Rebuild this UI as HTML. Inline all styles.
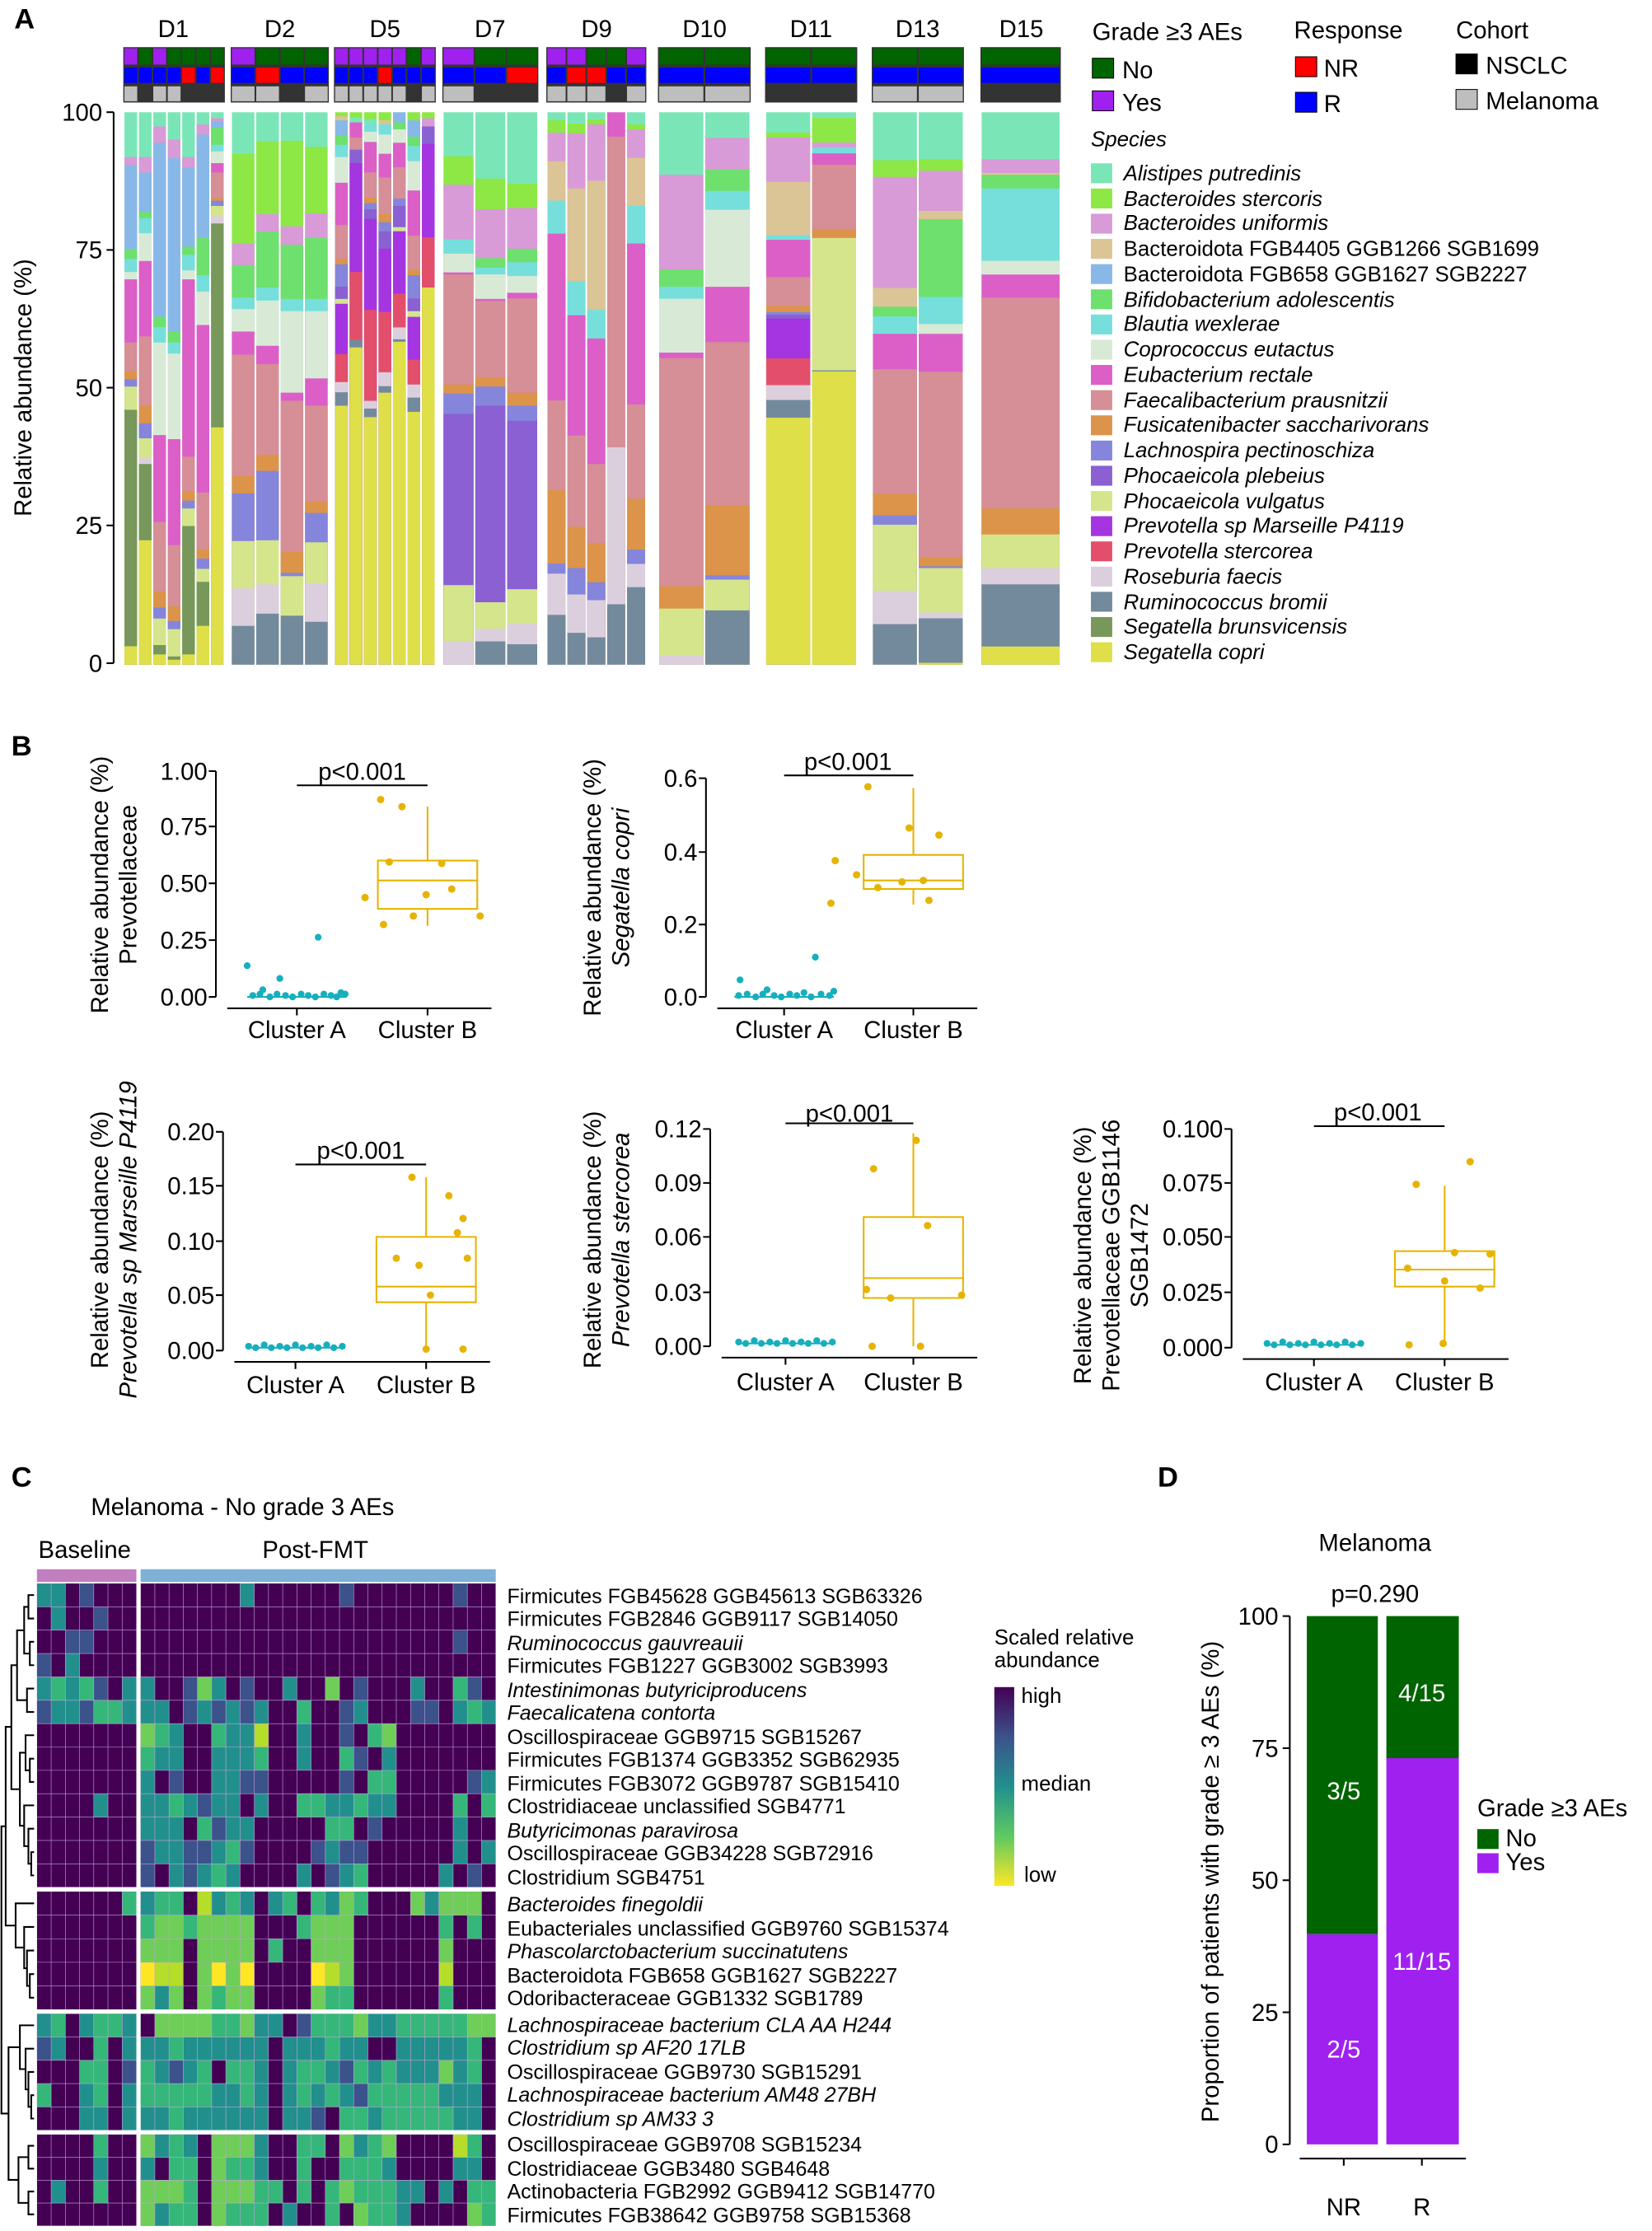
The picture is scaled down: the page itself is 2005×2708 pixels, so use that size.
<!DOCTYPE html>
<html><head><meta charset="utf-8">
<style>
html,body{margin:0;padding:0;background:#fff;}
svg{display:block;}
text{font-family:"Liberation Sans",Arial,sans-serif;fill:#000;}
.t{font-size:17px;}
.s{font-size:15px;}
.h{font-size:14.5px;}
.b{font-size:20px;font-weight:bold;}
.i{font-style:italic;}
.bs rect{width:1px;height:3000px;}
.c0{fill:#7ae6b8}.c1{fill:#8de845}.c2{fill:#d99ad8}.c3{fill:#dbc495}.c4{fill:#88b8e8}.c5{fill:#6ee06e}.c6{fill:#76dfdc}.c7{fill:#d8ead6}.c8{fill:#dc5fc8}.c9{fill:#d68f96}.c10{fill:#dc944a}.c11{fill:#8585dc}.c12{fill:#8a60d2}.c13{fill:#d5e58c}.c14{fill:#a435e0}.c15{fill:#e34f6a}.c16{fill:#dccfdd}.c17{fill:#738a9c}.c18{fill:#77985a}.c19{fill:#dfdf4a}
.P{fill:#a020f0}.G{fill:#006400}.B{fill:#0000ff}.R{fill:#ff0000}.L{fill:#bebebe}.D{fill:#333}
.hm rect{width:1px;height:1px;}
.q0{fill:#440154}.q1{fill:#3b528b}.q2{fill:#21908d}.q3{fill:#35b779}.q4{fill:#6ece58}.q5{fill:#b5de2b}.q6{fill:#fde725}
.gl{stroke:#c8a3dc;stroke-width:.6;fill:none;}
.ta{fill:#16afbd}.tb{fill:#e6b400}
</style></head>
<body>
<svg width="2005" height="2708" viewBox="0 0 1163 1571" preserveAspectRatio="none" xmlns="http://www.w3.org/2000/svg">
<rect width="1163" height="1571" fill="#fff"/>
<text class="b" x="10" y="20">A</text>
<text class="b" x="8" y="532">B</text>
<text class="b" x="8" y="1047">C</text>
<text class="b" x="815" y="1047">D</text>
<g class="t" text-anchor="middle">
<text x="122" y="26">D1</text><text x="197" y="26">D2</text><text x="271" y="26">D5</text>
<text x="345" y="26">D7</text><text x="420" y="26">D9</text><text x="496" y="26">D10</text>
<text x="571" y="26">D11</text><text x="646" y="26">D13</text><text x="719" y="26">D15</text>
</g>

<!-- annotation backings -->
<g fill="#333">
<rect x="86.8" y="33.2" width="71.5" height="39"/>
<rect x="162.4" y="33.2" width="69.1" height="39"/>
<rect x="235.1" y="33.2" width="71.7" height="39"/>
<rect x="311.4" y="33.2" width="67.6" height="39"/>
<rect x="384.6" y="33.2" width="70.4" height="39"/>
<rect x="463.2" y="33.2" width="65.3" height="39"/>
<rect x="538.6" y="33.2" width="64.9" height="39"/>
<rect x="613.7" y="33.2" width="64.9" height="39"/>
<rect x="690.2" y="33.2" width="56.6" height="39"/>
</g>
<!-- annotation cells -->
<g>
<!-- D1 -->
<rect x="87.6" y="34" width="9" height="11.5" class="P"/><rect x="97.8" y="34" width="9" height="11.5" class="G"/><rect x="107.9" y="34" width="9" height="11.5" class="P"/><rect x="118.1" y="34" width="9" height="11.5" class="G"/><rect x="128.2" y="34" width="9" height="11.5" class="G"/><rect x="138.4" y="34" width="9" height="11.5" class="G"/><rect x="148.5" y="34" width="9" height="11.5" class="G"/>
<rect x="87.6" y="47.6" width="9" height="10.8" class="B"/><rect x="97.8" y="47.6" width="9" height="10.8" class="B"/><rect x="107.9" y="47.6" width="9" height="10.8" class="B"/><rect x="118.1" y="47.6" width="9" height="10.8" class="B"/><rect x="128.2" y="47.6" width="9" height="10.8" class="R"/><rect x="138.4" y="47.6" width="9" height="10.8" class="B"/><rect x="148.5" y="47.6" width="9" height="10.8" class="R"/>
<rect x="87.6" y="60.8" width="9" height="10.5" class="L"/><rect x="97.8" y="60.8" width="9" height="10.5" class="D"/><rect x="107.9" y="60.8" width="9" height="10.5" class="L"/><rect x="118.1" y="60.8" width="9" height="10.5" class="L"/><rect x="128.2" y="60.8" width="9" height="10.5" class="D"/><rect x="138.4" y="60.8" width="9" height="10.5" class="D"/><rect x="148.5" y="60.8" width="9" height="10.5" class="D"/>
<!-- D2 -->
<rect x="163.2" y="34" width="16" height="11.5" class="P"/><rect x="180.4" y="34" width="16" height="11.5" class="G"/><rect x="197.6" y="34" width="16" height="11.5" class="G"/><rect x="214.7" y="34" width="16" height="11.5" class="G"/>
<rect x="163.2" y="47.6" width="16" height="10.8" class="B"/><rect x="180.4" y="47.6" width="16" height="10.8" class="R"/><rect x="197.6" y="47.6" width="16" height="10.8" class="B"/><rect x="214.7" y="47.6" width="16" height="10.8" class="B"/>
<rect x="163.2" y="60.8" width="16" height="10.5" class="L"/><rect x="180.4" y="60.8" width="16" height="10.5" class="L"/><rect x="197.6" y="60.8" width="16" height="10.5" class="D"/><rect x="214.7" y="60.8" width="16" height="10.5" class="L"/>
<!-- D5 -->
<rect x="235.9" y="34" width="9" height="11.5" class="P"/><rect x="246.1" y="34" width="9" height="11.5" class="P"/><rect x="256.3" y="34" width="9" height="11.5" class="P"/><rect x="266.5" y="34" width="9" height="11.5" class="P"/><rect x="276.6" y="34" width="9" height="11.5" class="P"/><rect x="286.8" y="34" width="9" height="11.5" class="G"/><rect x="297" y="34" width="9" height="11.5" class="P"/>
<rect x="235.9" y="47.6" width="9" height="10.8" class="B"/><rect x="246.1" y="47.6" width="9" height="10.8" class="B"/><rect x="256.3" y="47.6" width="9" height="10.8" class="B"/><rect x="266.5" y="47.6" width="9" height="10.8" class="R"/><rect x="276.6" y="47.6" width="9" height="10.8" class="B"/><rect x="286.8" y="47.6" width="9" height="10.8" class="B"/><rect x="297" y="47.6" width="9" height="10.8" class="B"/>
<rect x="235.9" y="60.8" width="9" height="10.5" class="L"/><rect x="246.1" y="60.8" width="9" height="10.5" class="L"/><rect x="256.3" y="60.8" width="9" height="10.5" class="L"/><rect x="266.5" y="60.8" width="9" height="10.5" class="L"/><rect x="276.6" y="60.8" width="9" height="10.5" class="L"/><rect x="286.8" y="60.8" width="9" height="10.5" class="D"/><rect x="297" y="60.8" width="9" height="10.5" class="L"/>
<!-- D7 -->
<rect x="312.2" y="34" width="21.2" height="11.5" class="P"/><rect x="334.6" y="34" width="21.2" height="11.5" class="G"/><rect x="357" y="34" width="21.2" height="11.5" class="G"/>
<rect x="312.2" y="47.6" width="21.2" height="10.8" class="B"/><rect x="334.6" y="47.6" width="21.2" height="10.8" class="B"/><rect x="357" y="47.6" width="21.2" height="10.8" class="R"/>
<rect x="312.2" y="60.8" width="21.2" height="10.5" class="L"/><rect x="334.6" y="60.8" width="21.2" height="10.5" class="D"/><rect x="357" y="60.8" width="21.2" height="10.5" class="D"/>
<!-- D9 -->
<rect x="385.4" y="34" width="12.8" height="11.5" class="P"/><rect x="399.4" y="34" width="12.8" height="11.5" class="P"/><rect x="413.4" y="34" width="12.8" height="11.5" class="G"/><rect x="427.4" y="34" width="12.8" height="11.5" class="G"/><rect x="441.4" y="34" width="12.8" height="11.5" class="P"/>
<rect x="385.4" y="47.6" width="12.8" height="10.8" class="B"/><rect x="399.4" y="47.6" width="12.8" height="10.8" class="R"/><rect x="413.4" y="47.6" width="12.8" height="10.8" class="R"/><rect x="427.4" y="47.6" width="12.8" height="10.8" class="B"/><rect x="441.4" y="47.6" width="12.8" height="10.8" class="B"/>
<rect x="385.4" y="60.8" width="12.8" height="10.5" class="L"/><rect x="399.4" y="60.8" width="12.8" height="10.5" class="L"/><rect x="413.4" y="60.8" width="12.8" height="10.5" class="L"/><rect x="427.4" y="60.8" width="12.8" height="10.5" class="D"/><rect x="441.4" y="60.8" width="12.8" height="10.5" class="L"/>
<!-- D10 -->
<rect x="464" y="34" width="31.2" height="11.5" class="G"/><rect x="496.5" y="34" width="31.2" height="11.5" class="G"/>
<rect x="464" y="47.6" width="31.2" height="10.8" class="B"/><rect x="496.5" y="47.6" width="31.2" height="10.8" class="B"/>
<rect x="464" y="60.8" width="31.2" height="10.5" class="L"/><rect x="496.5" y="60.8" width="31.2" height="10.5" class="L"/>
<!-- D11 -->
<rect x="539.4" y="34" width="31" height="11.5" class="G"/><rect x="571.7" y="34" width="31" height="11.5" class="G"/>
<rect x="539.4" y="47.6" width="31" height="10.8" class="B"/><rect x="571.7" y="47.6" width="31" height="10.8" class="B"/>
<rect x="539.4" y="60.8" width="31" height="10.5" class="D"/><rect x="571.7" y="60.8" width="31" height="10.5" class="D"/>
<!-- D13 -->
<rect x="614.5" y="34" width="31" height="11.5" class="G"/><rect x="646.8" y="34" width="31" height="11.5" class="G"/>
<rect x="614.5" y="47.6" width="31" height="10.8" class="B"/><rect x="646.8" y="47.6" width="31" height="10.8" class="B"/>
<rect x="614.5" y="60.8" width="31" height="10.5" class="L"/><rect x="646.8" y="60.8" width="31" height="10.5" class="L"/>
<!-- D15 -->
<rect x="691" y="34" width="55" height="11.5" class="G"/>
<rect x="691" y="47.6" width="55" height="10.8" class="B"/>
<rect x="691" y="60.8" width="55" height="10.5" class="D"/>
</g>

<!-- Stacked bars -->
<svg class="bs" x="87.6" y="79" width="8.96" height="389" viewBox="0 170 1 1355" preserveAspectRatio="none"><rect class="c0" y="170"/><rect class="c2" y="280"/><rect class="c4" y="300"/><rect class="c5" y="505"/><rect class="c6" y="530"/><rect class="c7" y="562"/><rect class="c8" y="580"/><rect class="c9" y="735"/><rect class="c10" y="805"/><rect class="c11" y="825"/><rect class="c13" y="843"/><rect class="c18" y="900"/><rect class="c19" y="1480"/></svg>
<svg class="bs" x="97.76" y="79" width="8.96" height="389" viewBox="0 170 1 1355" preserveAspectRatio="none"><rect class="c0" y="170"/><rect class="c2" y="280"/><rect class="c4" y="318"/><rect class="c5" y="415"/><rect class="c6" y="430"/><rect class="c7" y="467"/><rect class="c8" y="535"/><rect class="c9" y="720"/><rect class="c10" y="890"/><rect class="c11" y="933"/><rect class="c13" y="970"/><rect class="c16" y="1018"/><rect class="c18" y="1033"/><rect class="c19" y="1220"/></svg>
<svg class="bs" x="107.91" y="79" width="8.96" height="389" viewBox="0 170 1 1355" preserveAspectRatio="none"><rect class="c0" y="170"/><rect class="c2" y="205"/><rect class="c4" y="245"/><rect class="c5" y="672"/><rect class="c6" y="697"/><rect class="c7" y="735"/><rect class="c8" y="962"/><rect class="c9" y="1175"/><rect class="c10" y="1345"/><rect class="c11" y="1385"/><rect class="c13" y="1412"/><rect class="c18" y="1477"/><rect class="c19" y="1500"/></svg>
<svg class="bs" x="118.07" y="79" width="8.96" height="389" viewBox="0 170 1 1355" preserveAspectRatio="none"><rect class="c0" y="170"/><rect class="c2" y="237"/><rect class="c4" y="283"/><rect class="c5" y="707"/><rect class="c6" y="735"/><rect class="c7" y="762"/><rect class="c8" y="972"/><rect class="c9" y="1232"/><rect class="c10" y="1382"/><rect class="c11" y="1418"/><rect class="c13" y="1438"/><rect class="c18" y="1505"/><rect class="c19" y="1513"/></svg>
<svg class="bs" x="128.23" y="79" width="8.96" height="389" viewBox="0 170 1 1355" preserveAspectRatio="none"><rect class="c0" y="170"/><rect class="c2" y="280"/><rect class="c4" y="305"/><rect class="c5" y="500"/><rect class="c6" y="520"/><rect class="c7" y="558"/><rect class="c8" y="580"/><rect class="c9" y="1015"/><rect class="c10" y="1100"/><rect class="c11" y="1123"/><rect class="c13" y="1142"/><rect class="c18" y="1185"/><rect class="c19" y="1500"/></svg>
<svg class="bs" x="138.38" y="79" width="8.96" height="389" viewBox="0 170 1 1355" preserveAspectRatio="none"><rect class="c0" y="170"/><rect class="c2" y="200"/><rect class="c4" y="225"/><rect class="c5" y="478"/><rect class="c6" y="570"/><rect class="c7" y="610"/><rect class="c8" y="692"/><rect class="c9" y="1103"/><rect class="c10" y="1242"/><rect class="c11" y="1265"/><rect class="c13" y="1290"/><rect class="c18" y="1322"/><rect class="c19" y="1430"/></svg>
<svg class="bs" x="148.54" y="79" width="8.96" height="389" viewBox="0 170 1 1355" preserveAspectRatio="none"><rect class="c0" y="170"/><rect class="c2" y="185"/><rect class="c4" y="192"/><rect class="c5" y="208"/><rect class="c6" y="250"/><rect class="c7" y="266"/><rect class="c8" y="295"/><rect class="c9" y="318"/><rect class="c10" y="380"/><rect class="c11" y="387"/><rect class="c13" y="400"/><rect class="c16" y="425"/><rect class="c18" y="443"/><rect class="c19" y="943"/></svg>

<svg class="bs" x="163.2" y="79" width="15.97" height="389" viewBox="0 170 1 1355" preserveAspectRatio="none"><rect class="c0" y="170"/><rect class="c1" y="272"/><rect class="c2" y="492"/><rect class="c5" y="545"/><rect class="c6" y="625"/><rect class="c7" y="653"/><rect class="c8" y="708"/><rect class="c9" y="765"/><rect class="c10" y="1062"/><rect class="c11" y="1105"/><rect class="c13" y="1222"/><rect class="c16" y="1338"/><rect class="c17" y="1430"/></svg>
<svg class="bs" x="180.38" y="79" width="15.97" height="389" viewBox="0 170 1 1355" preserveAspectRatio="none"><rect class="c0" y="170"/><rect class="c1" y="242"/><rect class="c2" y="420"/><rect class="c5" y="463"/><rect class="c6" y="600"/><rect class="c7" y="632"/><rect class="c8" y="743"/><rect class="c9" y="788"/><rect class="c10" y="1010"/><rect class="c11" y="1050"/><rect class="c13" y="1220"/><rect class="c16" y="1328"/><rect class="c17" y="1400"/></svg>
<svg class="bs" x="197.55" y="79" width="15.97" height="389" viewBox="0 170 1 1355" preserveAspectRatio="none"><rect class="c0" y="170"/><rect class="c1" y="240"/><rect class="c2" y="450"/><rect class="c5" y="495"/><rect class="c6" y="628"/><rect class="c7" y="658"/><rect class="c8" y="858"/><rect class="c9" y="878"/><rect class="c10" y="1248"/><rect class="c11" y="1300"/><rect class="c13" y="1308"/><rect class="c17" y="1405"/></svg>
<svg class="bs" x="214.73" y="79" width="15.97" height="389" viewBox="0 170 1 1355" preserveAspectRatio="none"><rect class="c0" y="170"/><rect class="c1" y="255"/><rect class="c2" y="418"/><rect class="c5" y="478"/><rect class="c6" y="628"/><rect class="c7" y="658"/><rect class="c8" y="823"/><rect class="c9" y="890"/><rect class="c10" y="1125"/><rect class="c11" y="1153"/><rect class="c13" y="1225"/><rect class="c16" y="1325"/><rect class="c17" y="1420"/></svg>

<svg class="bs" x="235.9" y="79" width="8.99" height="389" viewBox="0 170 1 1355" preserveAspectRatio="none"><rect class="c1" y="170"/><rect class="c3" y="180"/><rect class="c4" y="190"/><rect class="c5" y="228"/><rect class="c6" y="250"/><rect class="c7" y="280"/><rect class="c8" y="343"/><rect class="c9" y="447"/><rect class="c10" y="530"/><rect class="c11" y="543"/><rect class="c12" y="598"/><rect class="c13" y="628"/><rect class="c14" y="640"/><rect class="c15" y="763"/><rect class="c16" y="832"/><rect class="c17" y="857"/><rect class="c19" y="890"/></svg>
<svg class="bs" x="246.09" y="79" width="8.99" height="389" viewBox="0 170 1 1355" preserveAspectRatio="none"><rect class="c1" y="170"/><rect class="c0" y="183"/><rect class="c8" y="195"/><rect class="c9" y="232"/><rect class="c12" y="262"/><rect class="c14" y="295"/><rect class="c15" y="562"/><rect class="c17" y="728"/><rect class="c19" y="747"/></svg>
<svg class="bs" x="256.27" y="79" width="8.99" height="389" viewBox="0 170 1 1355" preserveAspectRatio="none"><rect class="c1" y="170"/><rect class="c0" y="187"/><rect class="c6" y="200"/><rect class="c7" y="218"/><rect class="c8" y="243"/><rect class="c9" y="318"/><rect class="c10" y="380"/><rect class="c11" y="393"/><rect class="c12" y="408"/><rect class="c14" y="432"/><rect class="c15" y="655"/><rect class="c16" y="878"/><rect class="c17" y="897"/><rect class="c19" y="918"/></svg>
<svg class="bs" x="266.46" y="79" width="8.99" height="389" viewBox="0 170 1 1355" preserveAspectRatio="none"><rect class="c1" y="170"/><rect class="c3" y="190"/><rect class="c6" y="200"/><rect class="c7" y="225"/><rect class="c8" y="272"/><rect class="c9" y="330"/><rect class="c10" y="420"/><rect class="c11" y="440"/><rect class="c12" y="462"/><rect class="c14" y="505"/><rect class="c15" y="660"/><rect class="c16" y="808"/><rect class="c17" y="842"/><rect class="c19" y="858"/></svg>
<svg class="bs" x="276.64" y="79" width="8.99" height="389" viewBox="0 170 1 1355" preserveAspectRatio="none"><rect class="c4" y="170"/><rect class="c5" y="195"/><rect class="c7" y="212"/><rect class="c8" y="245"/><rect class="c9" y="305"/><rect class="c11" y="382"/><rect class="c12" y="400"/><rect class="c13" y="452"/><rect class="c14" y="462"/><rect class="c15" y="615"/><rect class="c16" y="698"/><rect class="c17" y="727"/><rect class="c19" y="733"/></svg>
<svg class="bs" x="286.83" y="79" width="8.99" height="389" viewBox="0 170 1 1355" preserveAspectRatio="none"><rect class="c1" y="170"/><rect class="c4" y="190"/><rect class="c5" y="230"/><rect class="c6" y="253"/><rect class="c7" y="290"/><rect class="c8" y="362"/><rect class="c9" y="473"/><rect class="c10" y="557"/><rect class="c11" y="570"/><rect class="c12" y="627"/><rect class="c13" y="658"/><rect class="c14" y="672"/><rect class="c15" y="777"/><rect class="c16" y="838"/><rect class="c17" y="870"/><rect class="c19" y="905"/></svg>
<svg class="bs" x="297.02" y="79" width="8.99" height="389" viewBox="0 170 1 1355" preserveAspectRatio="none"><rect class="c1" y="170"/><rect class="c2" y="185"/><rect class="c12" y="205"/><rect class="c14" y="248"/><rect class="c15" y="477"/><rect class="c19" y="600"/></svg>

<svg class="bs" x="312.2" y="79" width="21.2" height="389" viewBox="0 170 1 1355" preserveAspectRatio="none"><rect class="c0" y="170"/><rect class="c1" y="278"/><rect class="c2" y="348"/><rect class="c6" y="482"/><rect class="c7" y="517"/><rect class="c8" y="563"/><rect class="c9" y="568"/><rect class="c10" y="838"/><rect class="c11" y="860"/><rect class="c12" y="910"/><rect class="c13" y="1330"/><rect class="c16" y="1467"/></svg>
<svg class="bs" x="334.6" y="79" width="21.2" height="389" viewBox="0 170 1 1355" preserveAspectRatio="none"><rect class="c0" y="170"/><rect class="c1" y="333"/><rect class="c2" y="408"/><rect class="c5" y="528"/><rect class="c6" y="551"/><rect class="c7" y="568"/><rect class="c8" y="628"/><rect class="c9" y="633"/><rect class="c10" y="820"/><rect class="c11" y="843"/><rect class="c12" y="890"/><rect class="c13" y="1372"/><rect class="c16" y="1437"/><rect class="c17" y="1468"/></svg>
<svg class="bs" x="357" y="79" width="21.2" height="389" viewBox="0 170 1 1355" preserveAspectRatio="none"><rect class="c0" y="170"/><rect class="c1" y="345"/><rect class="c2" y="405"/><rect class="c5" y="505"/><rect class="c6" y="538"/><rect class="c7" y="572"/><rect class="c8" y="613"/><rect class="c9" y="627"/><rect class="c10" y="858"/><rect class="c11" y="890"/><rect class="c12" y="927"/><rect class="c13" y="1340"/><rect class="c16" y="1425"/><rect class="c17" y="1475"/></svg>

<svg class="bs" x="385.4" y="79" width="12.8" height="389" viewBox="0 170 1 1355" preserveAspectRatio="none"><rect class="c0" y="170"/><rect class="c1" y="190"/><rect class="c2" y="220"/><rect class="c3" y="290"/><rect class="c6" y="387"/><rect class="c8" y="468"/><rect class="c9" y="877"/><rect class="c10" y="1097"/><rect class="c11" y="1277"/><rect class="c16" y="1302"/><rect class="c17" y="1403"/></svg>
<svg class="bs" x="399.4" y="79" width="12.8" height="389" viewBox="0 170 1 1355" preserveAspectRatio="none"><rect class="c0" y="170"/><rect class="c1" y="198"/><rect class="c2" y="222"/><rect class="c3" y="357"/><rect class="c6" y="585"/><rect class="c8" y="668"/><rect class="c9" y="963"/><rect class="c10" y="1187"/><rect class="c11" y="1288"/><rect class="c16" y="1353"/><rect class="c17" y="1447"/></svg>
<svg class="bs" x="413.4" y="79" width="12.8" height="389" viewBox="0 170 1 1355" preserveAspectRatio="none"><rect class="c0" y="170"/><rect class="c1" y="188"/><rect class="c2" y="200"/><rect class="c3" y="338"/><rect class="c6" y="655"/><rect class="c8" y="725"/><rect class="c9" y="1033"/><rect class="c10" y="1227"/><rect class="c11" y="1323"/><rect class="c16" y="1367"/><rect class="c17" y="1458"/></svg>
<svg class="bs" x="427.4" y="79" width="12.8" height="389" viewBox="0 170 1 1355" preserveAspectRatio="none"><rect class="c8" y="170"/><rect class="c9" y="230"/><rect class="c16" y="992"/><rect class="c17" y="1377"/></svg>
<svg class="bs" x="441.4" y="79" width="12.8" height="389" viewBox="0 170 1 1355" preserveAspectRatio="none"><rect class="c0" y="170"/><rect class="c1" y="200"/><rect class="c2" y="212"/><rect class="c3" y="282"/><rect class="c6" y="400"/><rect class="c8" y="492"/><rect class="c9" y="887"/><rect class="c10" y="1118"/><rect class="c11" y="1243"/><rect class="c16" y="1278"/><rect class="c17" y="1335"/></svg>

<svg class="bs" x="464" y="79" width="31.25" height="389" viewBox="0 12 1 1528" preserveAspectRatio="none"><rect class="c0" y="12"/><rect class="c2" y="185"/><rect class="c5" y="447"/><rect class="c6" y="495"/><rect class="c7" y="528"/><rect class="c8" y="677"/><rect class="c9" y="692"/><rect class="c10" y="1323"/><rect class="c13" y="1385"/><rect class="c16" y="1515"/></svg>
<svg class="bs" x="496.45" y="79" width="31.25" height="389" viewBox="0 12 1 1528" preserveAspectRatio="none"><rect class="c0" y="12"/><rect class="c2" y="83"/><rect class="c5" y="170"/><rect class="c6" y="230"/><rect class="c7" y="282"/><rect class="c8" y="495"/><rect class="c9" y="648"/><rect class="c10" y="1100"/><rect class="c11" y="1293"/><rect class="c13" y="1305"/><rect class="c17" y="1390"/></svg>
<svg class="bs" x="539.4" y="79" width="31.05" height="389" viewBox="0 12 1 1528" preserveAspectRatio="none"><rect class="c0" y="12"/><rect class="c1" y="68"/><rect class="c2" y="82"/><rect class="c3" y="205"/><rect class="c6" y="352"/><rect class="c8" y="365"/><rect class="c9" y="468"/><rect class="c10" y="548"/><rect class="c11" y="565"/><rect class="c12" y="572"/><rect class="c14" y="583"/><rect class="c15" y="693"/><rect class="c16" y="767"/><rect class="c17" y="808"/><rect class="c19" y="857"/></svg>
<svg class="bs" x="571.65" y="79" width="31.05" height="389" viewBox="0 12 1 1528" preserveAspectRatio="none"><rect class="c0" y="12"/><rect class="c1" y="28"/><rect class="c2" y="96"/><rect class="c6" y="110"/><rect class="c8" y="126"/><rect class="c9" y="157"/><rect class="c10" y="335"/><rect class="c13" y="360"/><rect class="c17" y="726"/><rect class="c19" y="729"/></svg>
<svg class="bs" x="614.5" y="79" width="31.05" height="389" viewBox="0 12 1 1528" preserveAspectRatio="none"><rect class="c0" y="12"/><rect class="c1" y="145"/><rect class="c2" y="191"/><rect class="c3" y="498"/><rect class="c5" y="550"/><rect class="c6" y="577"/><rect class="c8" y="625"/><rect class="c9" y="723"/><rect class="c10" y="1068"/><rect class="c11" y="1127"/><rect class="c13" y="1153"/><rect class="c16" y="1336"/><rect class="c17" y="1428"/></svg>
<svg class="bs" x="646.75" y="79" width="31.05" height="389" viewBox="0 12 1 1528" preserveAspectRatio="none"><rect class="c0" y="12"/><rect class="c1" y="142"/><rect class="c2" y="174"/><rect class="c3" y="285"/><rect class="c5" y="308"/><rect class="c6" y="523"/><rect class="c7" y="598"/><rect class="c8" y="625"/><rect class="c9" y="730"/><rect class="c10" y="1243"/><rect class="c11" y="1268"/><rect class="c13" y="1273"/><rect class="c16" y="1396"/><rect class="c17" y="1412"/><rect class="c19" y="1535"/></svg>
<svg class="bs" x="691" y="79" width="55" height="389" viewBox="0 12 1 1528" preserveAspectRatio="none"><rect class="c0" y="12"/><rect class="c2" y="142"/><rect class="c3" y="180"/><rect class="c5" y="185"/><rect class="c6" y="223"/><rect class="c7" y="423"/><rect class="c8" y="461"/><rect class="c9" y="525"/><rect class="c10" y="1108"/><rect class="c13" y="1180"/><rect class="c16" y="1273"/><rect class="c17" y="1318"/><rect class="c19" y="1490"/></svg>

<!-- Panel A axis -->
<g stroke="#000" stroke-width="1.2">
<line x1="80" y1="79" x2="80" y2="467"/>
<line x1="75" y1="79" x2="80" y2="79"/><line x1="75" y1="176" x2="80" y2="176"/><line x1="75" y1="273" x2="80" y2="273"/><line x1="75" y1="370" x2="80" y2="370"/><line x1="75" y1="467" x2="80" y2="467"/>
</g>
<g class="t" text-anchor="end">
<text x="72" y="85">100</text><text x="72" y="182">75</text><text x="72" y="279">50</text><text x="72" y="376">25</text><text x="72" y="473">0</text>
</g>
<text class="t" transform="translate(22,273) rotate(-90)" text-anchor="middle">Relative abundance (%)</text>

<!-- Panel A legends -->
<text class="t" x="769" y="28">Grade ≥3 AEs</text>
<rect x="769" y="41" width="15" height="14" fill="#006400" stroke="#000" stroke-width=".6"/><text class="t" x="790" y="55">No</text>
<rect x="769" y="64" width="15" height="14" fill="#a020f0" stroke="#000" stroke-width=".6"/><text class="t" x="790" y="78">Yes</text>
<text class="t" x="911" y="27">Response</text>
<rect x="912" y="40" width="15" height="14" fill="#ff0000" stroke="#000" stroke-width=".6"/><text class="t" x="932" y="54">NR</text>
<rect x="912" y="65" width="15" height="14" fill="#0000ff" stroke="#000" stroke-width=".6"/><text class="t" x="932" y="79">R</text>
<text class="t" x="1025" y="27">Cohort</text>
<rect x="1025" y="38" width="15" height="14" fill="#000" stroke="#000" stroke-width=".6"/><text class="t" x="1046" y="52">NSCLC</text>
<rect x="1025" y="63" width="15" height="14" fill="#bebebe" stroke="#000" stroke-width=".6"/><text class="t" x="1046" y="77">Melanoma</text>
<text class="s i" x="768" y="103">Species</text>
<g>
<rect x="768" y="115" width="15" height="14" class="c0"/><rect x="768" y="132.75" width="15" height="14" class="c1"/><rect x="768" y="150.5" width="15" height="14" class="c2"/><rect x="768" y="168.25" width="15" height="14" class="c3"/><rect x="768" y="186" width="15" height="14" class="c4"/>
<rect x="768" y="203.75" width="15" height="14" class="c5"/><rect x="768" y="221.5" width="15" height="14" class="c6"/><rect x="768" y="239.25" width="15" height="14" class="c7"/><rect x="768" y="257" width="15" height="14" class="c8"/><rect x="768" y="274.75" width="15" height="14" class="c9"/>
<rect x="768" y="292.5" width="15" height="14" class="c10"/><rect x="768" y="310.25" width="15" height="14" class="c11"/><rect x="768" y="328" width="15" height="14" class="c12"/><rect x="768" y="345.75" width="15" height="14" class="c13"/><rect x="768" y="363.5" width="15" height="14" class="c14"/>
<rect x="768" y="381.25" width="15" height="14" class="c15"/><rect x="768" y="399" width="15" height="14" class="c16"/><rect x="768" y="416.75" width="15" height="14" class="c17"/><rect x="768" y="434.5" width="15" height="14" class="c18"/><rect x="768" y="452.25" width="15" height="14" class="c19"/>
</g>
<g class="s">
<text class="i" x="791" y="127">Alistipes putredinis</text>
<text class="i" x="791" y="145">Bacteroides stercoris</text>
<text class="i" x="791" y="162">Bacteroides uniformis</text>
<text x="791" y="180">Bacteroidota FGB4405 GGB1266 SGB1699</text>
<text x="791" y="198">Bacteroidota FGB658 GGB1627 SGB2227</text>
<text class="i" x="791" y="216">Bifidobacterium adolescentis</text>
<text class="i" x="791" y="233">Blautia wexlerae</text>
<text class="i" x="791" y="251">Coprococcus eutactus</text>
<text class="i" x="791" y="269">Eubacterium rectale</text>
<text class="i" x="791" y="287">Faecalibacterium prausnitzii</text>
<text class="i" x="791" y="304">Fusicatenibacter saccharivorans</text>
<text class="i" x="791" y="322">Lachnospira pectinoschiza</text>
<text class="i" x="791" y="340">Phocaeicola plebeius</text>
<text class="i" x="791" y="358">Phocaeicola vulgatus</text>
<text class="i" x="791" y="375">Prevotella sp Marseille P4119</text>
<text class="i" x="791" y="393">Prevotella stercorea</text>
<text class="i" x="791" y="411">Roseburia faecis</text>
<text class="i" x="791" y="429">Ruminococcus bromii</text>
<text class="i" x="791" y="446">Segatella brunsvicensis</text>
<text class="i" x="791" y="464">Segatella copri</text>
</g>

<!-- Panel B axes -->
<g stroke="#000" stroke-width="1.2" fill="none">
<path d="M152 543V702M147 543H152M147 582H152M147 622H152M147 662H152M147 702H152M160 710H346M209 710V715M301 710V715M209 553H301"/>
<path d="M497 548V702M492 548H497M492 600H497M492 651H497M492 702H497M505 710H688M552 710V715M643 710V715M552 546H643"/>
<path d="M157 797V951M152 797H157M152 835H157M152 874H157M152 912H157M152 951H157M165 959H345M208 959V964M300 959V964M208 820H300"/>
<path d="M500 795V948M495 795H500M495 833H500M495 871H500M495 910H500M495 948H500M508 956H688M553 956V961M643 956V961M553 791H643"/>
<path d="M867 795V949M862 795H867M862 833H867M862 871H867M862 910H867M862 949H867M875 957H1062M925 957V962M1017 957V962M925 793H1017"/>
</g>
<g stroke="#e6b400" stroke-width="1.2" fill="none">
<path d="M266 606H336V640H266ZM266 620H336M301 606V568M301 640V652"/>
<path d="M608 602H678V626H608ZM608 620H678M643 602V555M643 626V637"/>
<path d="M265 871H335V917H265ZM265 906H335M300 871V829M300 917V950"/>
<path d="M608 857H678V914H608ZM608 900H678M643 857V798M643 914V948"/>
<path d="M982 881H1052V906H982ZM982 894H1052M1017 881V835M1017 906V947"/>
</g>
<g stroke="#16afbd" stroke-width="1.2"><path d="M174 702H244M517 702H587M173 949H243M518 946H588M890 947H960"/></g>
<g class="ta">
<circle cx="174" cy="680" r="2.4"/><circle cx="224" cy="660" r="2.4"/><circle cx="197" cy="689" r="2.4"/><circle cx="185" cy="697" r="2.4"/><circle cx="240" cy="699" r="2.4"/>
<circle cx="178" cy="701" r="2.4"/><circle cx="183" cy="700" r="2.4"/><circle cx="190" cy="702" r="2.4"/><circle cx="195" cy="700" r="2.4"/><circle cx="201" cy="701" r="2.4"/><circle cx="206" cy="702" r="2.4"/><circle cx="212" cy="700" r="2.4"/><circle cx="217" cy="701" r="2.4"/><circle cx="222" cy="702" r="2.4"/><circle cx="228" cy="700" r="2.4"/><circle cx="233" cy="701" r="2.4"/><circle cx="237" cy="702" r="2.4"/><circle cx="243" cy="700" r="2.4"/>
<circle cx="521" cy="690" r="2.4"/><circle cx="574" cy="674" r="2.4"/><circle cx="540" cy="697" r="2.4"/>
<circle cx="520" cy="701" r="2.4"/><circle cx="526" cy="700" r="2.4"/><circle cx="532" cy="702" r="2.4"/><circle cx="537" cy="700" r="2.4"/><circle cx="545" cy="701" r="2.4"/><circle cx="550" cy="702" r="2.4"/><circle cx="556" cy="700" r="2.4"/><circle cx="561" cy="701" r="2.4"/><circle cx="566" cy="699" r="2.4"/><circle cx="571" cy="702" r="2.4"/><circle cx="578" cy="700" r="2.4"/><circle cx="584" cy="701" r="2.4"/><circle cx="587" cy="698" r="2.4"/>
<circle cx="175" cy="948" r="2.4"/><circle cx="180" cy="949" r="2.4"/><circle cx="186" cy="947" r="2.4"/><circle cx="191" cy="949" r="2.4"/><circle cx="197" cy="948" r="2.4"/><circle cx="202" cy="949" r="2.4"/><circle cx="208" cy="947" r="2.4"/><circle cx="213" cy="949" r="2.4"/><circle cx="219" cy="948" r="2.4"/><circle cx="224" cy="949" r="2.4"/><circle cx="230" cy="947" r="2.4"/><circle cx="235" cy="949" r="2.4"/><circle cx="241" cy="948" r="2.4"/>
<circle cx="520" cy="945" r="2.4"/><circle cx="525" cy="946" r="2.4"/><circle cx="531" cy="944" r="2.4"/><circle cx="536" cy="946" r="2.4"/><circle cx="542" cy="945" r="2.4"/><circle cx="547" cy="946" r="2.4"/><circle cx="553" cy="944" r="2.4"/><circle cx="558" cy="946" r="2.4"/><circle cx="564" cy="945" r="2.4"/><circle cx="569" cy="946" r="2.4"/><circle cx="575" cy="944" r="2.4"/><circle cx="580" cy="946" r="2.4"/><circle cx="586" cy="945" r="2.4"/>
<circle cx="892" cy="946" r="2.4"/><circle cx="897" cy="947" r="2.4"/><circle cx="903" cy="945" r="2.4"/><circle cx="908" cy="947" r="2.4"/><circle cx="914" cy="946" r="2.4"/><circle cx="919" cy="947" r="2.4"/><circle cx="925" cy="945" r="2.4"/><circle cx="930" cy="947" r="2.4"/><circle cx="936" cy="946" r="2.4"/><circle cx="941" cy="947" r="2.4"/><circle cx="947" cy="945" r="2.4"/><circle cx="952" cy="947" r="2.4"/><circle cx="958" cy="946" r="2.4"/>
</g>
<g class="tb">
<circle cx="268" cy="563" r="2.6"/><circle cx="283" cy="568" r="2.6"/><circle cx="257" cy="632" r="2.6"/><circle cx="311" cy="608" r="2.6"/><circle cx="274" cy="607" r="2.6"/><circle cx="318" cy="626" r="2.6"/><circle cx="291" cy="645" r="2.6"/><circle cx="300" cy="630" r="2.6"/><circle cx="338" cy="645" r="2.6"/><circle cx="270" cy="651" r="2.6"/>
<circle cx="611" cy="554" r="2.6"/><circle cx="640" cy="583" r="2.6"/><circle cx="661" cy="588" r="2.6"/><circle cx="588" cy="606" r="2.6"/><circle cx="603" cy="616" r="2.6"/><circle cx="635" cy="621" r="2.6"/><circle cx="650" cy="620" r="2.6"/><circle cx="618" cy="625" r="2.6"/><circle cx="585" cy="636" r="2.6"/><circle cx="654" cy="634" r="2.6"/>
<circle cx="290" cy="829" r="2.6"/><circle cx="316" cy="842" r="2.6"/><circle cx="326" cy="858" r="2.6"/><circle cx="322" cy="868" r="2.6"/><circle cx="329" cy="886" r="2.6"/><circle cx="279" cy="886" r="2.6"/><circle cx="295" cy="891" r="2.6"/><circle cx="303" cy="912" r="2.6"/><circle cx="300" cy="950" r="2.6"/><circle cx="326" cy="950" r="2.6"/>
<circle cx="615" cy="823" r="2.6"/><circle cx="645" cy="803" r="2.6"/><circle cx="653" cy="863" r="2.6"/><circle cx="610" cy="908" r="2.6"/><circle cx="627" cy="914" r="2.6"/><circle cx="677" cy="912" r="2.6"/><circle cx="614" cy="948" r="2.6"/><circle cx="648" cy="948" r="2.6"/>
<circle cx="997" cy="834" r="2.6"/><circle cx="1035" cy="818" r="2.6"/><circle cx="991" cy="893" r="2.6"/><circle cx="1017" cy="902" r="2.6"/><circle cx="1042" cy="907" r="2.6"/><circle cx="1049" cy="883" r="2.6"/><circle cx="1024" cy="882" r="2.6"/><circle cx="1016" cy="946" r="2.6"/><circle cx="992" cy="947" r="2.6"/>
</g>
<g class="t">
<text transform="translate(76,623) rotate(-90)" text-anchor="middle">Relative abundance (%)</text>
<text transform="translate(96,623) rotate(-90)" text-anchor="middle">Prevotellaceae</text>
<text transform="translate(423,625) rotate(-90)" text-anchor="middle">Relative abundance (%)</text>
<text class="i" transform="translate(443,625) rotate(-90)" text-anchor="middle">Segatella copri</text>
<text transform="translate(76,873) rotate(-90)" text-anchor="middle">Relative abundance (%)</text>
<text class="i" transform="translate(96,873) rotate(-90)" text-anchor="middle">Prevotella sp Marseille P4119</text>
<text transform="translate(423,873) rotate(-90)" text-anchor="middle">Relative abundance (%)</text>
<text class="i" transform="translate(443,873) rotate(-90)" text-anchor="middle">Prevotella stercorea</text>
<text transform="translate(768,884) rotate(-90)" text-anchor="middle">Relative abundance (%)</text>
<text transform="translate(788,884) rotate(-90)" text-anchor="middle">Prevotellaceae GGB1146</text>
<text transform="translate(808,884) rotate(-90)" text-anchor="middle">SGB1472</text>
</g>
<g class="t" text-anchor="end">
<text x="146" y="549">1.00</text><text x="146" y="588">0.75</text><text x="146" y="628">0.50</text><text x="146" y="668">0.25</text><text x="146" y="708">0.00</text>
<text x="491" y="554">0.6</text><text x="491" y="606">0.4</text><text x="491" y="657">0.2</text><text x="491" y="708">0.0</text>
<text x="151" y="803">0.20</text><text x="151" y="841">0.15</text><text x="151" y="880">0.10</text><text x="151" y="918">0.05</text><text x="151" y="957">0.00</text>
<text x="494" y="801">0.12</text><text x="494" y="839">0.09</text><text x="494" y="877">0.06</text><text x="494" y="916">0.03</text><text x="494" y="954">0.00</text>
<text x="861" y="801">0.100</text><text x="861" y="839">0.075</text><text x="861" y="877">0.050</text><text x="861" y="916">0.025</text><text x="861" y="955">0.000</text>
</g>
<g class="t" text-anchor="middle">
<text x="209" y="731">Cluster A</text><text x="301" y="731">Cluster B</text>
<text x="552" y="731">Cluster A</text><text x="643" y="731">Cluster B</text>
<text x="208" y="981">Cluster A</text><text x="300" y="981">Cluster B</text>
<text x="553" y="979">Cluster A</text><text x="643" y="979">Cluster B</text>
<text x="925" y="979">Cluster A</text><text x="1017" y="979">Cluster B</text>
<text x="255" y="549">p&lt;0.001</text>
<text x="597" y="542">p&lt;0.001</text>
<text x="254" y="816">p&lt;0.001</text>
<text x="598" y="790">p&lt;0.001</text>
<text x="970" y="789">p&lt;0.001</text>
</g>

<!-- Panel C -->
<text class="t" x="64" y="1067">Melanoma - No grade 3 AEs</text>
<text class="t" x="27" y="1097">Baseline</text>
<text class="t" x="222" y="1097" text-anchor="middle">Post-FMT</text>
<rect x="26" y="1105" width="70" height="9" fill="#c17fc0"/>
<rect x="99" y="1105" width="250" height="9" fill="#7fb0d5"/>

<!-- Block 1 -->
<svg class="hm" x="26" y="1115" width="70" height="213.9" viewBox="0 0 7 13" preserveAspectRatio="none">
<rect width="7" height="13" class="q0" style="width:7px;height:13px"/>
<rect x="0" y="0" class="q2"/><rect x="1" y="0" class="q2"/><rect x="3" y="0" class="q1"/>
<rect x="1" y="1" class="q2"/><rect x="4" y="1" class="q1"/>
<rect x="2" y="2" class="q1"/><rect x="3" y="2" class="q1"/>
<rect x="0" y="3" class="q1"/><rect x="2" y="3" class="q2"/>
<rect x="0" y="4" class="q2"/><rect x="1" y="4" class="q3"/><rect x="2" y="4" class="q2"/><rect x="3" y="4" class="q3"/><rect x="4" y="4" class="q1"/><rect x="6" y="4" class="q2"/>
<rect x="0" y="5" class="q1"/><rect x="1" y="5" class="q2"/><rect x="2" y="5" class="q2"/><rect x="3" y="5" class="q1"/><rect x="4" y="5" class="q3"/><rect x="5" y="5" class="q3"/><rect x="6" y="5" class="q2"/>
<rect x="4" y="9" class="q2"/>
<path class="gl" vector-effect="non-scaling-stroke" d="M1 0V13M2 0V13M3 0V13M4 0V13M5 0V13M6 0V13M0 1H7M0 2H7M0 3H7M0 4H7M0 5H7M0 6H7M0 7H7M0 8H7M0 9H7M0 10H7M0 11H7M0 12H7"/>
</svg>
<svg class="hm" x="99" y="1115" width="250" height="213.9" viewBox="0 0 25 13" preserveAspectRatio="none">
<rect width="25" height="13" class="q0" style="width:25px;height:13px"/>
<rect x="7" y="0" class="q2"/><rect x="14" y="0" class="q1"/><rect x="22" y="0" class="q1"/>
<rect x="22" y="2" class="q1"/>
<rect x="0" y="4" class="q2"/><rect x="3" y="4" class="q1"/><rect x="4" y="4" class="q4"/><rect x="5" y="4" class="q2"/><rect x="7" y="4" class="q1"/><rect x="10" y="4" class="q2"/><rect x="13" y="4" class="q4"/><rect x="15" y="4" class="q1"/><rect x="19" y="4" class="q2"/><rect x="22" y="4" class="q3"/><rect x="23" y="4" class="q1"/>
<rect x="0" y="5" class="q2"/><rect x="1" y="5" class="q2"/><rect x="3" y="5" class="q1"/><rect x="4" y="5" class="q2"/><rect x="5" y="5" class="q1"/><rect x="6" y="5" class="q2"/><rect x="7" y="5" class="q1"/><rect x="8" y="5" class="q2"/><rect x="11" y="5" class="q3"/><rect x="14" y="5" class="q1"/><rect x="15" y="5" class="q2"/><rect x="19" y="5" class="q1"/><rect x="20" y="5" class="q1"/><rect x="22" y="5" class="q2"/><rect x="23" y="5" class="q3"/><rect x="24" y="5" class="q2"/>
<rect x="0" y="6" class="q4"/><rect x="1" y="6" class="q3"/><rect x="2" y="6" class="q2"/><rect x="5" y="6" class="q3"/><rect x="6" y="6" class="q2"/><rect x="7" y="6" class="q2"/><rect x="8" y="6" class="q5"/><rect x="11" y="6" class="q2"/><rect x="14" y="6" class="q1"/><rect x="16" y="6" class="q3"/><rect x="17" y="6" class="q4"/>
<rect x="0" y="7" class="q3"/><rect x="1" y="7" class="q2"/><rect x="2" y="7" class="q2"/><rect x="5" y="7" class="q2"/><rect x="6" y="7" class="q2"/><rect x="7" y="7" class="q2"/><rect x="8" y="7" class="q3"/><rect x="11" y="7" class="q2"/><rect x="14" y="7" class="q3"/><rect x="15" y="7" class="q1"/><rect x="17" y="7" class="q2"/>
<rect x="0" y="8" class="q2"/><rect x="2" y="8" class="q1"/><rect x="5" y="8" class="q2"/><rect x="6" y="8" class="q2"/><rect x="7" y="8" class="q1"/><rect x="8" y="8" class="q1"/><rect x="14" y="8" class="q1"/><rect x="16" y="8" class="q3"/><rect x="17" y="8" class="q3"/><rect x="23" y="8" class="q1"/><rect x="24" y="8" class="q2"/>
<rect x="0" y="9" class="q2"/><rect x="1" y="9" class="q2"/><rect x="2" y="9" class="q3"/><rect x="3" y="9" class="q2"/><rect x="4" y="9" class="q1"/><rect x="5" y="9" class="q2"/><rect x="6" y="9" class="q2"/><rect x="8" y="9" class="q2"/><rect x="11" y="9" class="q3"/><rect x="12" y="9" class="q3"/><rect x="13" y="9" class="q2"/><rect x="14" y="9" class="q2"/><rect x="15" y="9" class="q3"/><rect x="16" y="9" class="q2"/><rect x="17" y="9" class="q2"/><rect x="22" y="9" class="q3"/><rect x="24" y="9" class="q3"/>
<rect x="0" y="10" class="q2"/><rect x="1" y="10" class="q2"/><rect x="2" y="10" class="q2"/><rect x="4" y="10" class="q3"/><rect x="5" y="10" class="q1"/><rect x="6" y="10" class="q2"/><rect x="7" y="10" class="q2"/><rect x="13" y="10" class="q3"/><rect x="14" y="10" class="q3"/><rect x="16" y="10" class="q1"/><rect x="22" y="10" class="q2"/>
<rect x="0" y="11" class="q1"/><rect x="1" y="11" class="q2"/><rect x="2" y="11" class="q2"/><rect x="3" y="11" class="q1"/><rect x="4" y="11" class="q1"/><rect x="5" y="11" class="q2"/><rect x="6" y="11" class="q3"/><rect x="7" y="11" class="q1"/><rect x="12" y="11" class="q1"/><rect x="13" y="11" class="q2"/><rect x="14" y="11" class="q1"/><rect x="15" y="11" class="q1"/><rect x="22" y="11" class="q2"/><rect x="24" y="11" class="q2"/>
<rect x="0" y="12" class="q1"/><rect x="2" y="12" class="q2"/><rect x="3" y="12" class="q1"/><rect x="4" y="12" class="q2"/><rect x="5" y="12" class="q3"/><rect x="6" y="12" class="q2"/><rect x="11" y="12" class="q2"/><rect x="13" y="12" class="q1"/><rect x="14" y="12" class="q2"/><rect x="15" y="12" class="q3"/><rect x="21" y="12" class="q2"/><rect x="23" y="12" class="q1"/>
<path class="gl" vector-effect="non-scaling-stroke" d="M1 0V13M2 0V13M3 0V13M4 0V13M5 0V13M6 0V13M7 0V13M8 0V13M9 0V13M10 0V13M11 0V13M12 0V13M13 0V13M14 0V13M15 0V13M16 0V13M17 0V13M18 0V13M19 0V13M20 0V13M21 0V13M22 0V13M23 0V13M24 0V13M0 1H25M0 2H25M0 3H25M0 4H25M0 5H25M0 6H25M0 7H25M0 8H25M0 9H25M0 10H25M0 11H25M0 12H25"/>
</svg>

<!-- Block 2 -->
<svg class="hm" x="26" y="1332" width="70" height="83" viewBox="0 0 7 5" preserveAspectRatio="none">
<rect width="7" height="5" class="q0" style="width:7px;height:5px"/>
<rect x="6" y="0" class="q3"/>
<path class="gl" vector-effect="non-scaling-stroke" d="M1 0V5M2 0V5M3 0V5M4 0V5M5 0V5M6 0V5M0 1H7M0 2H7M0 3H7M0 4H7"/>
</svg>
<svg class="hm" x="99" y="1332" width="250" height="83" viewBox="0 0 25 5" preserveAspectRatio="none">
<rect width="25" height="5" class="q0" style="width:25px;height:5px"/>
<rect x="0" y="0" class="q2"/><rect x="1" y="0" class="q3"/><rect x="2" y="0" class="q3"/><rect x="4" y="0" class="q5"/><rect x="5" y="0" class="q2"/><rect x="6" y="0" class="q3"/><rect x="7" y="0" class="q2"/><rect x="9" y="0" class="q2"/><rect x="10" y="0" class="q3"/><rect x="12" y="0" class="q3"/><rect x="13" y="0" class="q2"/><rect x="14" y="0" class="q4"/><rect x="15" y="0" class="q3"/><rect x="19" y="0" class="q4"/><rect x="20" y="0" class="q2"/><rect x="21" y="0" class="q4"/><rect x="22" y="0" class="q4"/><rect x="23" y="0" class="q4"/>
<rect x="0" y="1" class="q3"/><rect x="1" y="1" class="q4"/><rect x="2" y="1" class="q4"/><rect x="3" y="1" class="q3"/><rect x="4" y="1" class="q4"/><rect x="5" y="1" class="q4"/><rect x="6" y="1" class="q4"/><rect x="7" y="1" class="q4"/><rect x="11" y="1" class="q3"/><rect x="12" y="1" class="q4"/><rect x="13" y="1" class="q4"/><rect x="14" y="1" class="q4"/><rect x="21" y="1" class="q3"/><rect x="23" y="1" class="q3"/>
<rect x="0" y="2" class="q4"/><rect x="1" y="2" class="q4"/><rect x="2" y="2" class="q4"/><rect x="4" y="2" class="q4"/><rect x="5" y="2" class="q4"/><rect x="6" y="2" class="q4"/><rect x="7" y="2" class="q4"/><rect x="9" y="2" class="q3"/><rect x="12" y="2" class="q4"/><rect x="13" y="2" class="q4"/><rect x="14" y="2" class="q4"/><rect x="21" y="2" class="q4"/>
<rect x="0" y="3" class="q6"/><rect x="1" y="3" class="q5"/><rect x="2" y="3" class="q5"/><rect x="4" y="3" class="q4"/><rect x="5" y="3" class="q6"/><rect x="6" y="3" class="q4"/><rect x="7" y="3" class="q6"/><rect x="12" y="3" class="q6"/><rect x="13" y="3" class="q5"/><rect x="14" y="3" class="q4"/><rect x="21" y="3" class="q5"/>
<rect x="0" y="4" class="q4"/><rect x="1" y="4" class="q2"/><rect x="2" y="4" class="q4"/><rect x="4" y="4" class="q4"/><rect x="5" y="4" class="q3"/><rect x="6" y="4" class="q4"/><rect x="7" y="4" class="q4"/><rect x="12" y="4" class="q4"/><rect x="13" y="4" class="q3"/><rect x="14" y="4" class="q3"/><rect x="21" y="4" class="q3"/>
<path class="gl" vector-effect="non-scaling-stroke" d="M1 0V5M2 0V5M3 0V5M4 0V5M5 0V5M6 0V5M7 0V5M8 0V5M9 0V5M10 0V5M11 0V5M12 0V5M13 0V5M14 0V5M15 0V5M16 0V5M17 0V5M18 0V5M19 0V5M20 0V5M21 0V5M22 0V5M23 0V5M24 0V5M0 1H25M0 2H25M0 3H25M0 4H25"/>
</svg>

<!-- Block 3 -->
<svg class="hm" x="26" y="1418" width="70" height="82" viewBox="0 0 7 5" preserveAspectRatio="none">
<rect width="7" height="5" class="q0" style="width:7px;height:5px"/>
<rect x="0" y="0" class="q2"/><rect x="1" y="0" class="q3"/><rect x="3" y="0" class="q2"/><rect x="4" y="0" class="q3"/><rect x="5" y="0" class="q3"/><rect x="6" y="0" class="q2"/>
<rect x="0" y="1" class="q1"/><rect x="1" y="1" class="q2"/><rect x="4" y="1" class="q3"/><rect x="6" y="1" class="q2"/>
<rect x="3" y="2" class="q3"/><rect x="4" y="2" class="q3"/><rect x="6" y="2" class="q1"/>
<rect x="0" y="3" class="q3"/><rect x="3" y="3" class="q2"/><rect x="4" y="3" class="q3"/><rect x="6" y="3" class="q2"/>
<rect x="3" y="4" class="q2"/><rect x="4" y="4" class="q2"/><rect x="6" y="4" class="q2"/>
<path class="gl" vector-effect="non-scaling-stroke" d="M1 0V5M2 0V5M3 0V5M4 0V5M5 0V5M6 0V5M0 1H7M0 2H7M0 3H7M0 4H7"/>
</svg>
<svg class="hm" x="99" y="1418" width="250" height="82" viewBox="0 0 25 5" preserveAspectRatio="none">
<rect width="25" height="5" class="q2" style="width:25px;height:5px"/>
<rect x="0" y="0" class="q0"/><rect x="1" y="0" class="q4"/><rect x="2" y="0" class="q4"/><rect x="3" y="0" class="q4"/><rect x="4" y="0" class="q4"/><rect x="5" y="0" class="q3"/><rect x="6" y="0" class="q3"/><rect x="7" y="0" class="q4"/><rect x="10" y="0" class="q0"/><rect x="11" y="0" class="q1"/><rect x="12" y="0" class="q3"/><rect x="13" y="0" class="q3"/><rect x="14" y="0" class="q3"/><rect x="15" y="0" class="q4"/><rect x="18" y="0" class="q3"/><rect x="19" y="0" class="q3"/><rect x="20" y="0" class="q3"/><rect x="21" y="0" class="q3"/><rect x="22" y="0" class="q3"/><rect x="23" y="0" class="q4"/><rect x="24" y="0" class="q4"/>
<rect x="2" y="1" class="q3"/><rect x="9" y="1" class="q0"/><rect x="13" y="1" class="q3"/><rect x="16" y="1" class="q0"/><rect x="17" y="1" class="q0"/><rect x="23" y="1" class="q3"/><rect x="24" y="1" class="q0"/>
<rect x="0" y="2" class="q3"/><rect x="2" y="2" class="q1"/><rect x="4" y="2" class="q3"/><rect x="5" y="2" class="q0"/><rect x="6" y="2" class="q3"/><rect x="7" y="2" class="q3"/><rect x="9" y="2" class="q0"/><rect x="11" y="2" class="q3"/><rect x="12" y="2" class="q3"/><rect x="14" y="2" class="q1"/><rect x="15" y="2" class="q3"/><rect x="17" y="2" class="q3"/><rect x="21" y="2" class="q4"/><rect x="23" y="2" class="q3"/><rect x="24" y="2" class="q0"/>
<rect x="0" y="3" class="q3"/><rect x="1" y="3" class="q3"/><rect x="2" y="3" class="q3"/><rect x="3" y="3" class="q3"/><rect x="4" y="3" class="q3"/><rect x="7" y="3" class="q3"/><rect x="9" y="3" class="q0"/><rect x="11" y="3" class="q3"/><rect x="13" y="3" class="q3"/><rect x="15" y="3" class="q1"/><rect x="16" y="3" class="q3"/><rect x="17" y="3" class="q3"/><rect x="18" y="3" class="q3"/><rect x="19" y="3" class="q3"/><rect x="20" y="3" class="q3"/><rect x="24" y="3" class="q0"/>
<rect x="2" y="4" class="q3"/><rect x="9" y="4" class="q0"/><rect x="12" y="4" class="q1"/><rect x="13" y="4" class="q0"/><rect x="14" y="4" class="q3"/><rect x="15" y="4" class="q3"/><rect x="17" y="4" class="q3"/><rect x="18" y="4" class="q3"/><rect x="19" y="4" class="q3"/><rect x="20" y="4" class="q3"/><rect x="21" y="4" class="q3"/><rect x="24" y="4" class="q0"/>
<path class="gl" vector-effect="non-scaling-stroke" d="M1 0V5M2 0V5M3 0V5M4 0V5M5 0V5M6 0V5M7 0V5M8 0V5M9 0V5M10 0V5M11 0V5M12 0V5M13 0V5M14 0V5M15 0V5M16 0V5M17 0V5M18 0V5M19 0V5M20 0V5M21 0V5M22 0V5M23 0V5M24 0V5M0 1H25M0 2H25M0 3H25M0 4H25"/>
</svg>

<!-- Block 4 -->
<svg class="hm" x="26" y="1503" width="70" height="64.4" viewBox="0 0 7 4" preserveAspectRatio="none">
<rect width="7" height="4" class="q0" style="width:7px;height:4px"/>
<rect x="4" y="0" class="q3"/><rect x="4" y="1" class="q2"/><rect x="1" y="2" class="q2"/><rect x="4" y="2" class="q3"/>
<path class="gl" vector-effect="non-scaling-stroke" d="M1 0V4M2 0V4M3 0V4M4 0V4M5 0V4M6 0V4M0 1H7M0 2H7M0 3H7"/>
</svg>
<svg class="hm" x="99" y="1503" width="250" height="64.4" viewBox="0 0 25 4" preserveAspectRatio="none">
<rect width="25" height="4" class="q0" style="width:25px;height:4px"/>
<rect x="0" y="0" class="q4"/><rect x="1" y="0" class="q2"/><rect x="2" y="0" class="q3"/><rect x="3" y="0" class="q2"/><rect x="5" y="0" class="q4"/><rect x="6" y="0" class="q4"/><rect x="7" y="0" class="q4"/><rect x="8" y="0" class="q2"/><rect x="11" y="0" class="q3"/><rect x="12" y="0" class="q3"/><rect x="14" y="0" class="q4"/><rect x="15" y="0" class="q2"/><rect x="16" y="0" class="q3"/><rect x="17" y="0" class="q4"/><rect x="22" y="0" class="q5"/><rect x="23" y="0" class="q3"/>
<rect x="0" y="1" class="q2"/><rect x="2" y="1" class="q3"/><rect x="3" y="1" class="q3"/><rect x="5" y="1" class="q4"/><rect x="6" y="1" class="q3"/><rect x="7" y="1" class="q3"/><rect x="8" y="1" class="q2"/><rect x="11" y="1" class="q3"/><rect x="14" y="1" class="q3"/><rect x="15" y="1" class="q3"/><rect x="16" y="1" class="q3"/><rect x="17" y="1" class="q2"/><rect x="22" y="1" class="q2"/><rect x="23" y="1" class="q2"/>
<rect x="0" y="2" class="q4"/><rect x="1" y="2" class="q4"/><rect x="2" y="2" class="q4"/><rect x="3" y="2" class="q3"/><rect x="5" y="2" class="q4"/><rect x="6" y="2" class="q4"/><rect x="7" y="2" class="q4"/><rect x="8" y="2" class="q3"/><rect x="9" y="2" class="q3"/><rect x="11" y="2" class="q3"/><rect x="13" y="2" class="q3"/><rect x="14" y="2" class="q4"/><rect x="15" y="2" class="q3"/><rect x="16" y="2" class="q3"/><rect x="17" y="2" class="q3"/><rect x="18" y="2" class="q2"/><rect x="19" y="2" class="q2"/><rect x="21" y="2" class="q2"/><rect x="23" y="2" class="q3"/><rect x="24" y="2" class="q3"/>
<rect x="0" y="3" class="q4"/><rect x="1" y="3" class="q2"/><rect x="2" y="3" class="q3"/><rect x="3" y="3" class="q3"/><rect x="5" y="3" class="q4"/><rect x="6" y="3" class="q3"/><rect x="7" y="3" class="q3"/><rect x="8" y="3" class="q3"/><rect x="10" y="3" class="q2"/><rect x="13" y="3" class="q3"/><rect x="15" y="3" class="q4"/><rect x="16" y="3" class="q3"/><rect x="17" y="3" class="q3"/><rect x="18" y="3" class="q2"/><rect x="23" y="3" class="q4"/><rect x="24" y="3" class="q3"/>
<path class="gl" vector-effect="non-scaling-stroke" d="M1 0V4M2 0V4M3 0V4M4 0V4M5 0V4M6 0V4M7 0V4M8 0V4M9 0V4M10 0V4M11 0V4M12 0V4M13 0V4M14 0V4M15 0V4M16 0V4M17 0V4M18 0V4M19 0V4M20 0V4M21 0V4M22 0V4M23 0V4M24 0V4M0 1H25M0 2H25M0 3H25"/>
</svg>

<!-- dendrogram -->
<g stroke="#000" stroke-width="1.2" fill="none">
<path d="M24 1123.2H20V1139.7H24M24 1156.1H21V1172.6H24M20 1131.5H17V1164.4H21M24 1189H19V1205.5H24M17 1148H12V1197.2H19"/>
<path d="M24 1238.4H21V1254.8H24M24 1221.9H18V1246.6H21M24 1304.2H22V1320.6H24M24 1287.7H20V1312.4H22M24 1271.3H17V1300H20M18 1234.2H14V1285.6H17M14 1259.9H8V1172.6H12"/>
<path d="M24 1390.1H21V1406.7H24M24 1373.5H19V1398.4H21M24 1356.9H17V1386H19M24 1340.3H11V1371.4H17"/>
<path d="M24 1475.4H22V1491.8H24M24 1459H20V1483.6H22M24 1442.6H18V1471.3H20M24 1426.2H14V1457H18"/>
<path d="M24 1511H20V1527.1H24M24 1543.2H20V1559.3H24M20 1519H13V1551.2H20"/>
<path d="M14 1441.6H6V1535H13M8 1216H4V1355.9H11M4 1286H1V1488.3H6"/>
</g>

<g class="h">
<text x="357" y="1129">Firmicutes FGB45628 GGB45613 SGB63326</text>
<text x="357" y="1145">Firmicutes FGB2846 GGB9117 SGB14050</text>
<text class="i" x="357" y="1162">Ruminococcus gauvreauii</text>
<text x="357" y="1178">Firmicutes FGB1227 GGB3002 SGB3993</text>
<text class="i" x="357" y="1195">Intestinimonas butyriciproducens</text>
<text class="i" x="357" y="1211">Faecalicatena contorta</text>
<text x="357" y="1228">Oscillospiraceae GGB9715 SGB15267</text>
<text x="357" y="1244">Firmicutes FGB1374 GGB3352 SGB62935</text>
<text x="357" y="1261">Firmicutes FGB3072 GGB9787 SGB15410</text>
<text x="357" y="1277">Clostridiaceae unclassified SGB4771</text>
<text class="i" x="357" y="1294">Butyricimonas paravirosa</text>
<text x="357" y="1310">Oscillospiraceae GGB34228 SGB72916</text>
<text x="357" y="1327">Clostridium SGB4751</text>
<text class="i" x="357" y="1346">Bacteroides finegoldii</text>
<text x="357" y="1363">Eubacteriales unclassified GGB9760 SGB15374</text>
<text class="i" x="357" y="1379">Phascolarctobacterium succinatutens</text>
<text x="357" y="1396">Bacteroidota FGB658 GGB1627 SGB2227</text>
<text x="357" y="1412">Odoribacteraceae GGB1332 SGB1789</text>
<text class="i" x="357" y="1431">Lachnospiraceae bacterium CLA AA H244</text>
<text class="i" x="357" y="1447">Clostridium sp AF20 17LB</text>
<text x="357" y="1464">Oscillospiraceae GGB9730 SGB15291</text>
<text class="i" x="357" y="1480">Lachnospiraceae bacterium AM48 27BH</text>
<text class="i" x="357" y="1497">Clostridium sp AM33 3</text>
<text x="357" y="1515">Oscillospiraceae GGB9708 SGB15234</text>
<text x="357" y="1532">Clostridiaceae GGB3480 SGB4648</text>
<text x="357" y="1548">Actinobacteria FGB2992 GGB9412 SGB14770</text>
<text x="357" y="1565">Firmicutes FGB38642 GGB9758 SGB15368</text>
</g>
<text class="s" x="700" y="1158">Scaled relative</text>
<text class="s" x="700" y="1174">abundance</text>
<defs><linearGradient id="vir" x1="0" y1="0" x2="0" y2="1">
<stop offset="0" stop-color="#440154"/><stop offset=".25" stop-color="#3b528b"/><stop offset=".5" stop-color="#21908d"/><stop offset=".75" stop-color="#5ec962"/><stop offset="1" stop-color="#fde725"/>
</linearGradient></defs>
<rect x="700" y="1188" width="14" height="140" fill="url(#vir)"/>
<text class="s" x="719" y="1199">high</text>
<text class="s" x="719" y="1261">median</text>
<text class="s" x="721" y="1325">low</text>

<!-- Panel D -->
<text class="t" x="968" y="1092" text-anchor="middle">Melanoma</text>
<text class="t" x="968" y="1128" text-anchor="middle">p=0.290</text>
<rect x="920" y="1138" width="50" height="224" fill="#006400"/>
<rect x="920" y="1362" width="50" height="148" fill="#a020f0"/>
<rect x="976" y="1138" width="51" height="100" fill="#006400"/>
<rect x="976" y="1238" width="51" height="272" fill="#a020f0"/>
<g class="t" text-anchor="middle">
<text x="946" y="1267" style="fill:#fff">3/5</text>
<text x="946" y="1449" style="fill:#fff">2/5</text>
<text x="1001" y="1198" style="fill:#fff">4/15</text>
<text x="1001" y="1387" style="fill:#fff">11/15</text>
</g>
<g stroke="#000" stroke-width="1.2">
<line x1="908" y1="1138" x2="908" y2="1510"/>
<line x1="903" y1="1138" x2="908" y2="1138"/><line x1="903" y1="1231" x2="908" y2="1231"/><line x1="903" y1="1324" x2="908" y2="1324"/><line x1="903" y1="1417" x2="908" y2="1417"/><line x1="903" y1="1510" x2="908" y2="1510"/>
<line x1="915" y1="1520" x2="1032" y2="1520"/>
<line x1="946" y1="1520" x2="946" y2="1525"/><line x1="1001" y1="1520" x2="1001" y2="1525"/>
</g>
<g class="t" text-anchor="end">
<text x="900" y="1144">100</text><text x="900" y="1237">75</text><text x="900" y="1330">50</text><text x="900" y="1423">25</text><text x="900" y="1516">0</text>
</g>
<text class="t" x="946" y="1560" text-anchor="middle">NR</text>
<text class="t" x="1001" y="1560" text-anchor="middle">R</text>
<text class="t" transform="translate(858,1325) rotate(-90)" text-anchor="middle">Proportion of patients with grade ≥ 3 AEs (%)</text>
<text class="t" x="1040" y="1279">Grade ≥3 AEs</text>
<rect x="1040" y="1288" width="15" height="14" fill="#006400"/><text class="t" x="1060" y="1300">No</text>
<rect x="1040" y="1305" width="15" height="14" fill="#a020f0"/><text class="t" x="1060" y="1317">Yes</text>
</svg>
</body></html>
